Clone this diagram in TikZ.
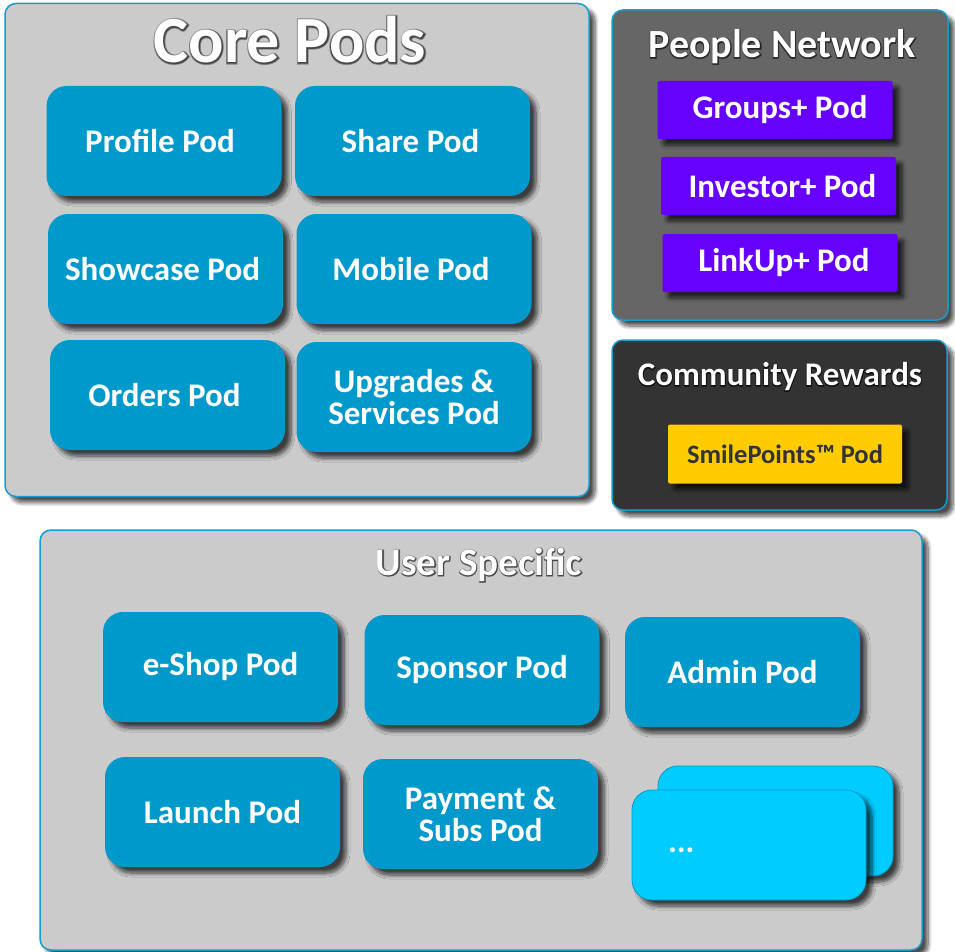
\documentclass[tikz,border=0pt]{standalone}
\usepackage{fontspec}
\setmainfont{Carlito}
% stroked faces used for the dark rim under the white titles
\newfontfamily\rimwide[BoldFeatures={FakeBold=5}]{Carlito}
\newfontfamily\rimnarrow[BoldFeatures={FakeBold=2.5}]{Carlito}
\usetikzlibrary{shadows.blur}

\definecolor{panelgray}{HTML}{CBCBCB}
\definecolor{edgeblue}{HTML}{1A9BD0}
\definecolor{podblue}{HTML}{0099CC}
\definecolor{podviolet}{HTML}{6600FF}
\definecolor{podgold}{HTML}{FFCC00}
\definecolor{podcyan}{HTML}{00CCFF}
\definecolor{darkpanel}{HTML}{666666}
\definecolor{darkerpanel}{HTML}{333333}

% rim shades around the white titles, outer then inner
\colorlet{lighthaloA}{panelgray!65!black}
\colorlet{lighthaloB}{panelgray!35!black}
\colorlet{greyhaloA}{darkpanel!65!black}
\colorlet{greyhaloB}{darkpanel!35!black}
\colorlet{darkhaloA}{darkerpanel!65!black}
\colorlet{darkhaloB}{darkerpanel!30!black}

% white text over a two-tone stroked rim (#1 outer, #2 inner)
\newcommand{\halotext}[3]{%
  \rlap{\rimwide\bfseries\color{#1}#3}%
  \rlap{\rimnarrow\bfseries\color{#2}#3}%
  #3}

\tikzset{
  dropshadow/.style={blur shadow={shadow xshift=6pt, shadow yshift=-6pt,
      shadow blur radius=4pt, shadow blur steps=8, shadow opacity=70}},
  panel/.style={draw=edgeblue, line width=1.5pt, rounded corners=11pt,
      inner sep=0pt, outer sep=0pt, dropshadow},
  podlabel/.style={text=white, font=\bfseries\fontsize{33}{32}\selectfont,
      align=center},
  bluepod/.style={podlabel, fill=podblue, rounded corners=20pt,
      minimum width=235pt, minimum height=110pt, inner sep=0pt, dropshadow},
  violetpod/.style={podlabel, fill=podviolet, rounded corners=2pt,
      minimum width=235pt, minimum height=58pt, inner sep=0pt, dropshadow},
  goldpod/.style={fill=podgold, text=darkerpanel, rounded corners=2pt,
      font=\bfseries\fontsize{26.5}{28}\selectfont,
      minimum width=234pt, minimum height=59pt, inner sep=0pt, dropshadow},
  morepod/.style={fill=podcyan, draw=podblue, line width=0.8pt,
      rounded corners=20pt, minimum height=110pt, inner sep=0pt, dropshadow},
  title/.style={text=white, inner sep=0pt,
      font=\bfseries\fontsize{#1}{#1}\selectfont},
}

\begin{document}
\begin{tikzpicture}[x=1pt, y=-1pt]
  \useasboundingbox (0,0) rectangle (955,952);

  % ---------- Core pods ----------
  \node[panel, fill=panelgray, minimum width=584pt, minimum height=493pt]
    (core) at (297,250) {};
  \node[title=66] (coretitle) at (290,40)
    {\halotext{lighthaloA}{lighthaloB}{Core Pods}};
  \node[bluepod] (profile)  at (164,141) {Profile Pod\hspace*{8pt}};
  \node[bluepod] (share)    at (412.5,141) {Share Pod\hspace*{4pt}};
  \node[bluepod] (showcase) at (165.5,269) {Showcase Pod\hspace*{6pt}};
  \node[bluepod] (mobile)   at (414,269) {Mobile Pod\hspace*{6pt}};
  \node[bluepod] (orders)   at (167.5,395) {Orders Pod\hspace*{6pt}};
  \node[bluepod] (upgrades) at (414,397) {Upgrades \&\\Services Pod};

  % ---------- People network ----------
  \node[panel, fill=darkpanel, minimum width=336pt, minimum height=310pt]
    (people) at (780,165) {};
  \node[title=40] (peopletitle) at (782,47)
    {\halotext{greyhaloA}{greyhaloB}{People Network}};
  \node[violetpod] (groups)   at (775,110) {\hspace*{10pt}Groups+ Pod};
  \node[violetpod] (investor) at (778.5,186) {\hspace*{8pt}Investor+ Pod};
  \node[violetpod] (linkup)   at (780,263) {\hspace*{8pt}LinkUp+ Pod};

  % ---------- Community rewards ----------
  \node[panel, fill=darkerpanel, minimum width=335pt, minimum height=170pt]
    (rewards) at (779.5,425) {};
  \node[title=33] (rewardstitle) at (780,377)
    {\halotext{darkhaloA}{darkhaloB}{Community Rewards}};
  \node[goldpod] (smile) at (785,454) {SmilePoints™ Pod};

  % ---------- User specific ----------
  \node[panel, fill=panelgray, minimum width=882pt, minimum height=420pt]
    (user) at (481,740) {};
  \node[title=39] (usertitle) at (479,565)
    {\halotext{lighthaloA}{lighthaloB}{User Specific}};
  \node[bluepod] (eshop)   at (220.5,667) {e-Shop Pod};
  \node[bluepod] (sponsor) at (482,670) {Sponsor Pod};
  \node[bluepod] (admin)   at (742.5,672) {Admin Pod};
  \node[bluepod] (launch)  at (222.5,812) {Launch Pod};
  \node[bluepod] (payment) at (480.5,814) {Payment \&\\Subs Pod};
  \node[morepod, minimum width=235pt] (moreback) at (775.5,821) {};
  \node[morepod, podlabel, align=left, text width=162pt, inner xsep=36pt,
        text height=14pt, text depth=0pt,
        minimum width=234pt] (morefront) at (749,845) {...};
\end{tikzpicture}
\end{document}
